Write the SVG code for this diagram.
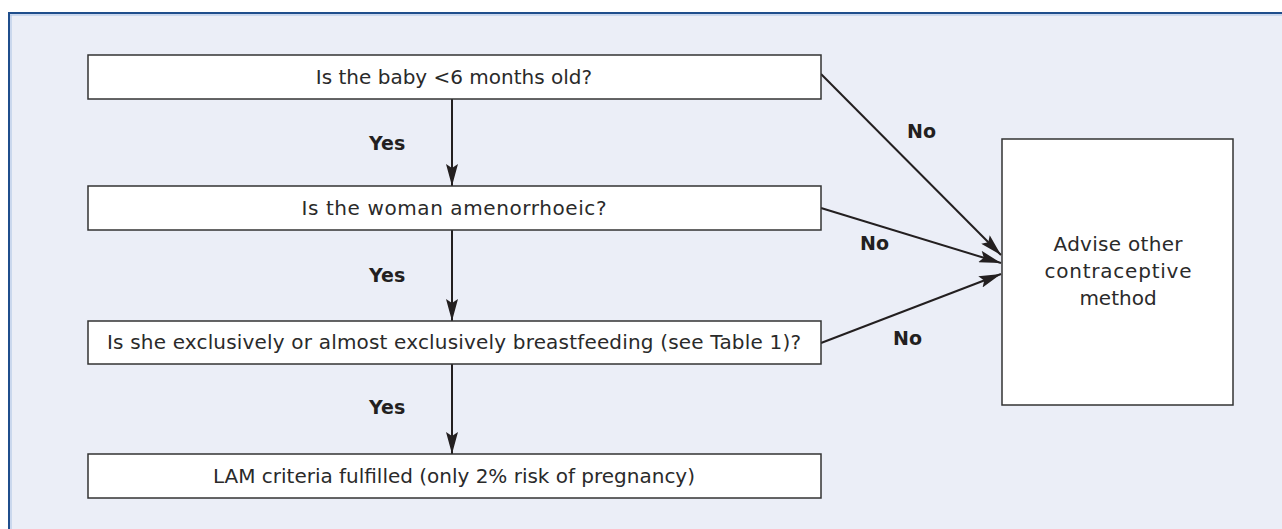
<svg xmlns="http://www.w3.org/2000/svg" width="1282" height="529" viewBox="0 0 1282 529">
<defs>
<style>
.box{fill:#ffffff;stroke:#333333;stroke-width:1.5}
.t{font-family:"DejaVu Sans","Liberation Sans",sans-serif;font-size:20px;fill:#2a2a2a;text-anchor:middle}
.b{font-family:"DejaVu Sans","Liberation Sans",sans-serif;font-size:19px;font-weight:bold;fill:#231f20}
.c{stroke:#231f20;stroke-width:2;fill:none}
</style>
<marker id="ah" markerWidth="22" markerHeight="12" refX="22" refY="6" orient="auto" markerUnits="userSpaceOnUse">
<path d="M0,0 L22,6 L0,12 L4,6 Z" fill="#231f20"/>
</marker>
</defs>
<rect x="0" y="0" width="1282" height="529" fill="#ffffff"/>
<rect x="9" y="13" width="1290" height="530" fill="#ebeef7" stroke="#1f4e8c" stroke-width="2"/>
<line x1="10" y1="15" x2="1282" y2="15" stroke="#a9c1e4" stroke-width="1"/>
<line x1="11" y1="15" x2="11" y2="529" stroke="#a9c1e4" stroke-width="1"/>
<g id="connectors">
<line class="c" x1="452" y1="99" x2="452" y2="186" marker-end="url(#ah)"/>
<line class="c" x1="452" y1="230" x2="452" y2="321" marker-end="url(#ah)"/>
<line class="c" x1="452" y1="364" x2="452" y2="454" marker-end="url(#ah)"/>
<line class="c" x1="821" y1="74" x2="1001" y2="255" marker-end="url(#ah)"/>
<line class="c" x1="821" y1="208" x2="1001" y2="263" marker-end="url(#ah)"/>
<line class="c" x1="821" y1="343" x2="1001" y2="274" marker-end="url(#ah)"/>
<text class="b" x="369" y="150">Yes</text>
<text class="b" x="369" y="282">Yes</text>
<text class="b" x="369" y="414">Yes</text>
<text class="b" x="907" y="138">No</text>
<text class="b" x="860" y="250">No</text>
<text class="b" x="893" y="345">No</text>
</g>
<g id="n1"><rect class="box" x="88" y="55" width="733" height="44"/><text class="t" x="454" y="84">Is the baby &lt;6 months old?</text></g>
<g id="n2"><rect class="box" x="88" y="186" width="733" height="44"/><text class="t" x="454" y="215" textLength="305">Is the woman amenorrhoeic?</text></g>
<g id="n3"><rect class="box" x="88" y="321" width="733" height="43"/><text class="t" x="454" y="349" textLength="694">Is she exclusively or almost exclusively breastfeeding (see Table 1)?</text></g>
<g id="n4"><rect class="box" x="88" y="454" width="733" height="44"/><text class="t" x="454" y="483" textLength="482">LAM criteria fulfilled (only 2% risk of pregnancy)</text></g>
<g id="n5"><rect class="box" x="1002" y="139" width="231" height="266"/>
<text class="t" x="1118" y="251" textLength="129">Advise other</text>
<text class="t" x="1118" y="278" textLength="147">contraceptive</text>
<text class="t" x="1118" y="305">method</text></g>
</svg>
